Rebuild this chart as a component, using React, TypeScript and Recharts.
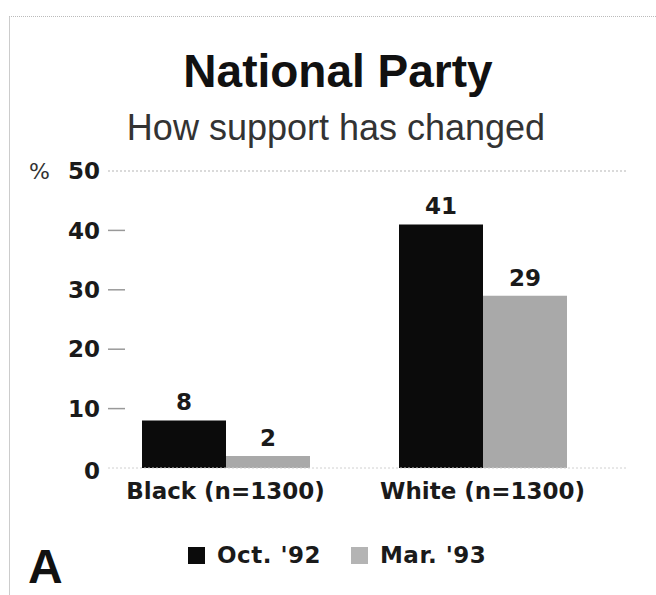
import React from 'react';
import { BarChart, Bar, XAxis, YAxis, LabelList } from 'recharts';

const categories = ['Black (n=1300)', 'White (n=1300)'];
const oct92 = [8, 41];
const mar93 = [2, 29];
const yTicks = [0, 10, 20, 30, 40, 50];
const seriesNames = ["Oct. '92", "Mar. '93"];
const seriesColors = ['#0b0b0b', '#a9a9a9'];

const data = categories.map((name, i) => ({ name, oct: oct92[i], mar: mar93[i] }));

const boldFont = '"DejaVu Sans", sans-serif';

const YTick = (props: any) => {
  const { y, payload } = props;
  const v = payload.value;
  return (
    <g>
      {v === 50 && (
        <text x={29} y={y} dy="0.36em" fontFamily={boldFont} fontSize={22} fill="#333">
          %
        </text>
      )}
      <text
        x={100}
        y={v === 0 ? y + 3 : y}
        dy="0.36em"
        textAnchor="end"
        fontFamily={boldFont}
        fontWeight="bold"
        fontSize={23}
        fill="#1a1a1a"
      >
        {v}
      </text>
      {v === 50 || v === 0 ? (
        <line x1={108} x2={628} y1={y} y2={y} stroke={v === 0 ? '#d0d0d0' : '#b5b5b5'} strokeDasharray="2 2" />
      ) : (
        <line x1={108} x2={125} y1={y} y2={y} stroke="#999" strokeWidth={1.5} />
      )}
    </g>
  );
};

const XTick = (props: any) => {
  const { x, y, payload } = props;
  return (
    <text
      x={x}
      y={y + 31}
      textAnchor="middle"
      fontFamily={boldFont}
      fontWeight="bold"
      fontSize={23}
      fill="#1a1a1a"
    >
      {payload.value}
    </text>
  );
};

const LegendBox = () => (
  <div
    style={{
      position: 'absolute',
      left: 188,
      top: 543,
      display: 'flex',
      alignItems: 'center',
      fontFamily: boldFont,
      fontWeight: 'bold',
      fontSize: 23,
      letterSpacing: 0.5,
      color: '#1a1a1a',
    }}
  >
    {seriesNames.map((n, i) => (
      <div key={n} style={{ display: 'flex', alignItems: 'center', marginRight: 30 }}>
        <div style={{ width: 17, height: 17, background: i === 0 ? seriesColors[0] : '#b4b4b4', marginRight: 12 }} />
        <span style={{ lineHeight: '24px' }}>{n}</span>
      </div>
    ))}
  </div>
);

export default function App() {
  return (
    <div style={{ position: 'absolute', left: 0, top: 0, width: 656, height: 595, background: '#fff', overflow: 'hidden' }}>
      <div
        style={{
          position: 'absolute',
          left: 9,
          top: 16,
          width: 660,
          height: 600,
          borderTop: '1px dotted #bbb',
          borderLeft: '1px solid #ccc',
        }}
      />
      <div
        style={{
          position: 'absolute',
          left: 0,
          width: 676,
          top: 48,
          textAlign: 'center',
          fontFamily: '"Liberation Sans", Arial, sans-serif',
          fontWeight: 'bold',
          fontSize: 46,
          lineHeight: '46px',
          color: '#111',
        }}
      >
        National Party
      </div>
      <div
        style={{
          position: 'absolute',
          left: 0,
          width: 672,
          top: 110,
          textAlign: 'center',
          fontFamily: '"Liberation Sans", Arial, sans-serif',
          fontSize: 36,
          lineHeight: '36px',
          color: '#333',
        }}
      >
        How support has changed
      </div>
      <div
        style={{
          position: 'absolute',
          left: 28,
          top: 547,
          fontFamily: '"Liberation Sans", Arial, sans-serif',
          fontWeight: 'bold',
          fontSize: 48,
          lineHeight: '40px',
          color: '#111',
        }}
      >
        A
      </div>
      <div style={{ position: 'absolute', left: 0, top: 0 }}>
        <BarChart
          width={656}
          height={595}
          data={data}
          margin={{ top: 171, right: 28, left: 0, bottom: 87 }}
          barCategoryGap={45}
          barGap={0}
        >
          <XAxis
            dataKey="name"
            height={40}
            axisLine={false}
            tickLine={false}
            tickSize={0}
            tickMargin={0}
            padding={{ left: 0, right: 17 }}
            tick={<XTick />}
            interval={0}
          />
          <YAxis
            width={97}
            domain={[0, 50]}
            ticks={yTicks}
            axisLine={false}
            tickLine={false}
            tick={<YTick />}
            interval={0}
          />
          <Bar dataKey="oct" name={seriesNames[0]} fill={seriesColors[0]} isAnimationActive={false}>
            <LabelList dataKey="oct" position="top" offset={10} fontFamily={boldFont} fontWeight="bold" fontSize={23} fill="#1a1a1a" />
          </Bar>
          <Bar dataKey="mar" name={seriesNames[1]} fill={seriesColors[1]} isAnimationActive={false}>
            <LabelList dataKey="mar" position="top" offset={10} fontFamily={boldFont} fontWeight="bold" fontSize={23} fill="#1a1a1a" />
          </Bar>
        </BarChart>
      </div>
      <LegendBox />
    </div>
  );
}
